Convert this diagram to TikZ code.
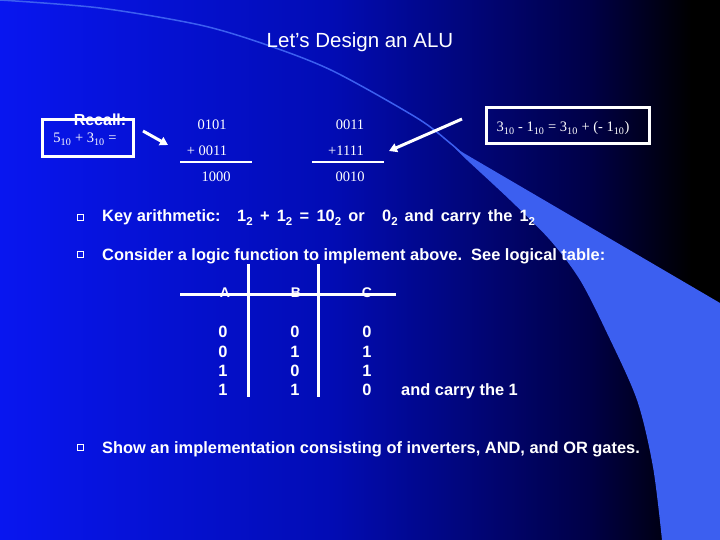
\documentclass[tikz,border=0pt]{standalone}
\usepackage{fontspec}
\setmainfont{Liberation Sans}
\newfontfamily\numfont{Liberation Serif}
\usetikzlibrary{arrows.meta}
\definecolor{bgblue}{RGB}{8,22,240}
\definecolor{bgmid}{RGB}{2,12,180}
\definecolor{bgdark}{RGB}{0,0,70}
\definecolor{swoosh}{RGB}{60,95,240}
\pgfdeclarehorizontalshading{slidebg}{100bp}{color(0bp)=(bgblue); color(25bp)=(bgblue);
  color(48bp)=(bgmid); color(66bp)=(bgdark); color(73bp)=(black); color(100bp)=(black)}
\newcommand{\bsub}[1]{\raisebox{-0.22em}{\fontsize{11.5}{12}\selectfont#1}}
\begin{document}
\begin{tikzpicture}[x=1pt,y=-1pt,
    every node/.style={text=white,inner sep=0pt},
    title/.style={font=\fontsize{20.5}{24}\selectfont,anchor=base},
    digits/.style={font=\numfont\fontsize{14.5}{17}\selectfont,anchor=base},
    bullettext/.style={font=\bfseries\fontsize{16.4}{19}\selectfont,anchor=base west},
    cell/.style={font=\bfseries\fontsize{16.4}{19}\selectfont,anchor=base},
    head/.style={font=\bfseries\fontsize{14}{17}\selectfont,anchor=base},
    frame/.style={draw=white,line width=3pt},
    bulletbox/.style={draw=white,line width=1pt,minimum size=6pt},
    pointer/.style={white,line width=3pt,-{Triangle[length=8pt,width=9pt]}},
    rule/.style={white,line width=3pt},
    sumrule/.style={white,line width=2pt}]
  \useasboundingbox (0,0) rectangle (720,540);
  % background
  \shade[shading=slidebg] (0,0) rectangle (720,540);
  \fill[swoosh] plot[smooth] coordinates {(455,148) (467,160) (510,200) (550,240)
      (580,280) (607,333) (637,400) (653,467) (662,540)}
    -- (720,540) -- (720,303) -- cycle;
  \draw[swoosh,line width=1.5pt] plot[smooth] coordinates {(0,0) (100,8) (200,25)
      (267,45) (333,71) (417,118) (450,143) (467,158)};
  % title
  \draw (360,48) node[title] (title){Let’s Design an ALU};
  % recall box
  \draw[frame] (42,120) rectangle (133,157);
  \draw (100,126) node[head,font=\bfseries\fontsize{16}{19}\selectfont] (recall){Recall:};
  \draw (85,143) node[digits] (sum){5\textsubscript{10} + 3\textsubscript{10} =};
  % first sum
  \draw
    (212,130) node[digits] (a1){0101}
    (207,156) node[digits] (b1){+ 0011}
    (216,182) node[digits] (c1){1000};
  % second sum
  \draw
    (350,130) node[digits] (a2){0011}
    (346,156) node[digits] (b2){+1111}
    (350,182) node[digits] (c2){0010};
  % subtraction box
  \draw[frame] (486,108) rectangle (649,144);
  \draw (563,132) node[digits] (sub){3\textsubscript{10} - 1\textsubscript{10} = 3\textsubscript{10} + (- 1\textsubscript{10})};
  \coordinate (p1) at (143,131);
  \coordinate (q1) at (168,145);
  \coordinate (p2) at (462,119);
  \coordinate (q2) at (389,151);
  \begin{scope}[sumrule]
    \draw (180,162) -- (252,162);
    \draw (312,162) -- (384,162);
  \end{scope}
  \draw[pointer] (p1) -- (q1);
  \draw[pointer] (p2) -- (q2);
  % bullets
  \draw
    (80.5,217.5) node[bulletbox] (k){}
    (80.5,254.5) node[bulletbox] (l){}
    (80.5,447.5) node[bulletbox] (m){};
  \draw
    (102,222) node[bullettext] (key){Key arithmetic:}
    (237,222) node[bullettext] (keysum){1\bsub{2} \,+\, 1\bsub{2} \,=\, 10\bsub{2} \,or}
    (382,222) node[bullettext] (keycarry){\spaceskip=7pt\relax 0\bsub{2} and carry the 1\bsub{2}};
  \draw (102,260) node[bullettext] (logic){Consider a logic function to implement above.\ \ See logical table:};
  \draw (102,453) node[bullettext] (show){Show an implementation consisting of inverters, AND, and OR gates.};
  % table
  \begin{scope}[rule]
    \draw (180,294) -- (396,294);
    \draw (248,264) -- (248,397);
    \draw (318,264) -- (318,397);
  \end{scope}
  \draw
    (225,297) node[head] (hA){A}
    (296,297) node[head] (hB){B}
    (367,297) node[head] (hC){C};
  \foreach \a/\b/\c/\y in {0/0/0/337,0/1/1/357,1/0/1/376,1/1/0/395}
    \draw
      (223,\y) node[cell] {\a}
      (295,\y) node[cell] {\b}
      (367,\y) node[cell] {\c};
  \draw (401,395) node[cell,anchor=base west] (carry){and carry the 1};
\end{tikzpicture}
\end{document}
